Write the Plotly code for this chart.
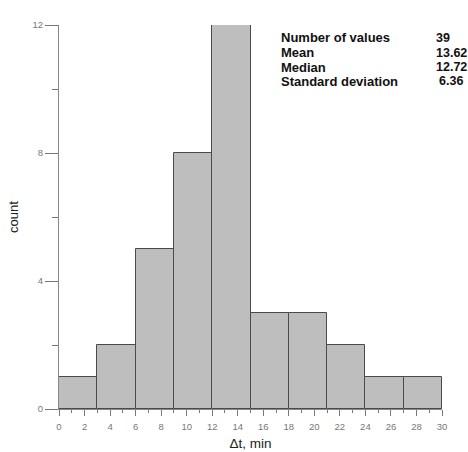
import plotly.graph_objects as go

bin_left = [0, 3, 6, 9, 12, 15, 18, 21, 24, 27]
bin_width = 3
counts = [1, 2, 5, 8, 12, 3, 3, 2, 1, 1]

stat_names = ["Number of values", "Mean", "Median", "Standard deviation"]
stat_values = ["39", "13.62", "12.72", "6.36"]

x_ticks = list(range(0, 31, 2))
y_ticks = [0, 4, 8, 12]

centers = [b + bin_width / 2 for b in bin_left]

W, H = 468, 452
# desired plot area in screenshot pixels (page margin removed by post_script)
PX0, PX1, PY0, PY1 = 59, 442, 25, 409
L = PX0
R = W - PX1
T = PY0
B = H - PY1

fig = go.Figure(go.Bar(
    x=centers, y=counts, width=[bin_width] * len(counts),
    marker=dict(color="#bebebe", line=dict(color="#4a4a4a", width=1)),
))

font_family = "Liberation Sans, Arial, sans-serif"
fig.update_layout(
    width=W, height=H,
    margin=dict(l=L, r=R, t=T, b=B),
    plot_bgcolor="white", paper_bgcolor="white",
    showlegend=False,
    font=dict(family=font_family, color="#222"),
    bargap=0,
)
fig.update_xaxes(
    range=[0, 30], tickvals=x_ticks, ticktext=[str(v) for v in x_ticks],
    ticks="outside", ticklen=6, tickcolor="#777", tickwidth=1,
    showline=True, linecolor="#888", linewidth=1, showgrid=False, zeroline=False,
    tickfont=dict(size=9.5, color="#777"),
    ticklabelstandoff=3,
    minor=dict(dtick=1, ticks="outside", ticklen=3, tickcolor="#777"),
    title=dict(text="Δt, min", font=dict(size=13.5, color="#222"), standoff=7),
    automargin=False,
)
fig.update_yaxes(
    range=[0, 12], tickvals=y_ticks, ticktext=[str(v) for v in y_ticks],
    ticks="outside", ticklen=13, tickcolor="#777", tickwidth=1,
    showline=True, linecolor="#888", linewidth=1, showgrid=False, zeroline=False,
    tickfont=dict(size=9.5, color="#777"),
    ticklabelstandoff=0,
    minor=dict(tickvals=[2, 6, 10], ticks="outside", ticklen=6, tickcolor="#777"),
    title=dict(text="count", font=dict(size=13, color="#222"), standoff=10),
    automargin=False,
)

pw = PX1 - PX0
ph = PY1 - PY0


def px_to_paper(xp, yp):
    return (xp - PX0) / pw, (PY1 - yp) / ph


ys = [38, 52.5, 67, 81]
value_x = [434, 434, 434, 437]
for name, val, yp, vx in zip(stat_names, stat_values, ys, value_x):
    ax, ay = px_to_paper(279, yp)
    fig.add_annotation(x=ax, y=ay, xref="paper", yref="paper",
                       text="<b>%s</b>" % name, showarrow=False,
                       xanchor="left", yanchor="middle",
                       font=dict(size=13, color="#111", family=font_family))
    bx, by = px_to_paper(vx, yp)
    fig.add_annotation(x=bx, y=by, xref="paper", yref="paper",
                       text="<b>%s</b>" % val, showarrow=False,
                       xanchor="left", yanchor="middle",
                       font=dict(size=12.5, color="#111", family=font_family))

fig.write_html(
    "out.html",
    config={"displayModeBar": False},
    post_script="document.body.style.margin='0';"
                "document.documentElement.style.overflow='hidden';"
                "document.body.style.overflow='hidden';",
)
